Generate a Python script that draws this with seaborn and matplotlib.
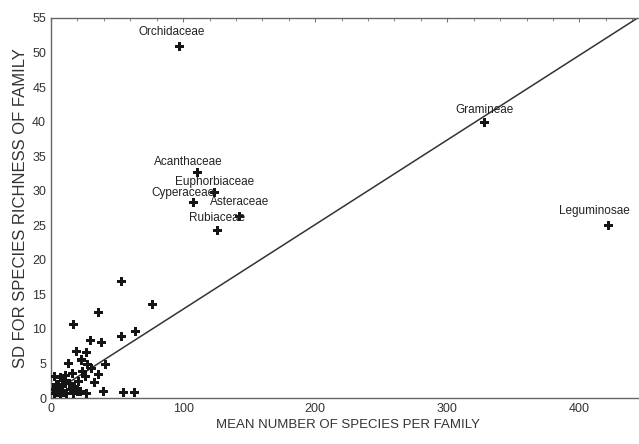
import numpy as np
import pandas as pd
import matplotlib
matplotlib.use("Agg")
import matplotlib.pyplot as plt
import seaborn as sns
from matplotlib.ticker import MultipleLocator

# ---- données ----
families = ["Orchidaceae", "Gramineae", "Leguminosae", "Acanthaceae",
            "Euphorbiaceae", "Cyperaceae", "Asteraceae", "Rubiaceae"]
fam_mean = [97, 328, 422, 111, 124, 108, 143, 126]
fam_sd = [50.9, 39.9, 25.0, 32.6, 29.7, 28.3, 26.3, 24.3]

other_mean = [53, 77, 36, 17, 53, 64, 30, 38, 19, 27, 13, 23, 28, 41,
              36, 26, 40, 27, 55, 63, 3, 7, 11, 4, 9, 14, 18, 21,
              3, 7, 12, 17, 22, 2, 5, 9, 15, 20, 33, 31, 24, 10, 6, 16]
other_sd = [16.8, 13.5, 12.4, 10.7, 8.9, 9.6, 8.3, 8.0, 6.8, 6.6, 5.0, 5.5, 4.8, 4.8,
            3.4, 3.1, 0.9, 0.7, 0.8, 0.8, 3.1, 2.9, 3.2, 1.9, 1.6, 2.1, 1.6, 2.4,
            0.6, 0.4, 0.7, 0.7, 0.9, 1.2, 1.4, 1.1, 1.3, 1.0, 2.2, 4.3, 3.9, 2.6, 2.0, 3.6]

# droite de régression
reg_a, reg_b = 0.6, 0.1225

# décalage des étiquettes (points)
label_offsets = {"Orchidaceae": (-5, 10), "Gramineae": (0, 9), "Leguminosae": (-10, 10),
                 "Acanthaceae": (-7, 8), "Euphorbiaceae": (0, 8), "Cyperaceae": (-8, 7),
                 "Asteraceae": (0, 10), "Rubiaceae": (0, 9)}

df = pd.DataFrame({"mean": fam_mean + other_mean, "sd": fam_sd + other_sd})

sns.set_style("white")
plt.rcParams["font.family"] = ["Liberation Sans Narrow", "Liberation Sans", "DejaVu Sans"]

fig = plt.figure(figsize=(6.39, 4.44), dpi=100)
ax = fig.add_axes([51 / 639, 46 / 444, 1 - 51 / 639 + 0.01, 380 / 444])

sns.scatterplot(data=df, x="mean", y="sd", marker="P", s=42, color="#151515",
                edgecolor="none", ax=ax, zorder=3)

xs = np.array([0, 450])
ax.plot(xs, reg_a + reg_b * xs, color="#333333", lw=1.1, zorder=2)

for name, x, y in zip(families, fam_mean, fam_sd):
    ax.annotate(name, (x, y), xytext=label_offsets[name], textcoords="offset points",
                ha="center", va="center", fontsize=8.5, color="#222222")

ax.set_xlim(0, 450)
ax.set_ylim(0, 55)
ax.xaxis.set_major_locator(MultipleLocator(100))
ax.xaxis.set_minor_locator(MultipleLocator(20))
ax.yaxis.set_major_locator(MultipleLocator(5))
ax.yaxis.set_minor_locator(MultipleLocator(1))
ax.tick_params(which="both", direction="in", top=True, color="#777777",
               labelsize=9, labelcolor="#333333")
ax.tick_params(which="major", length=3)
ax.tick_params(which="minor", length=2)
for s in ["left", "bottom", "top"]:
    ax.spines[s].set_color("#666666")
    ax.spines[s].set_linewidth(1.0)
ax.spines["right"].set_visible(False)

ax.set_xlabel("MEAN NUMBER OF SPECIES PER FAMILY", fontsize=9.5, color="#333333", labelpad=3)
ax.set_ylabel("SD FOR SPECIES RICHNESS OF FAMILY", fontsize=12, color="#333333", labelpad=3)

fig.savefig("out.png", dpi=100)
